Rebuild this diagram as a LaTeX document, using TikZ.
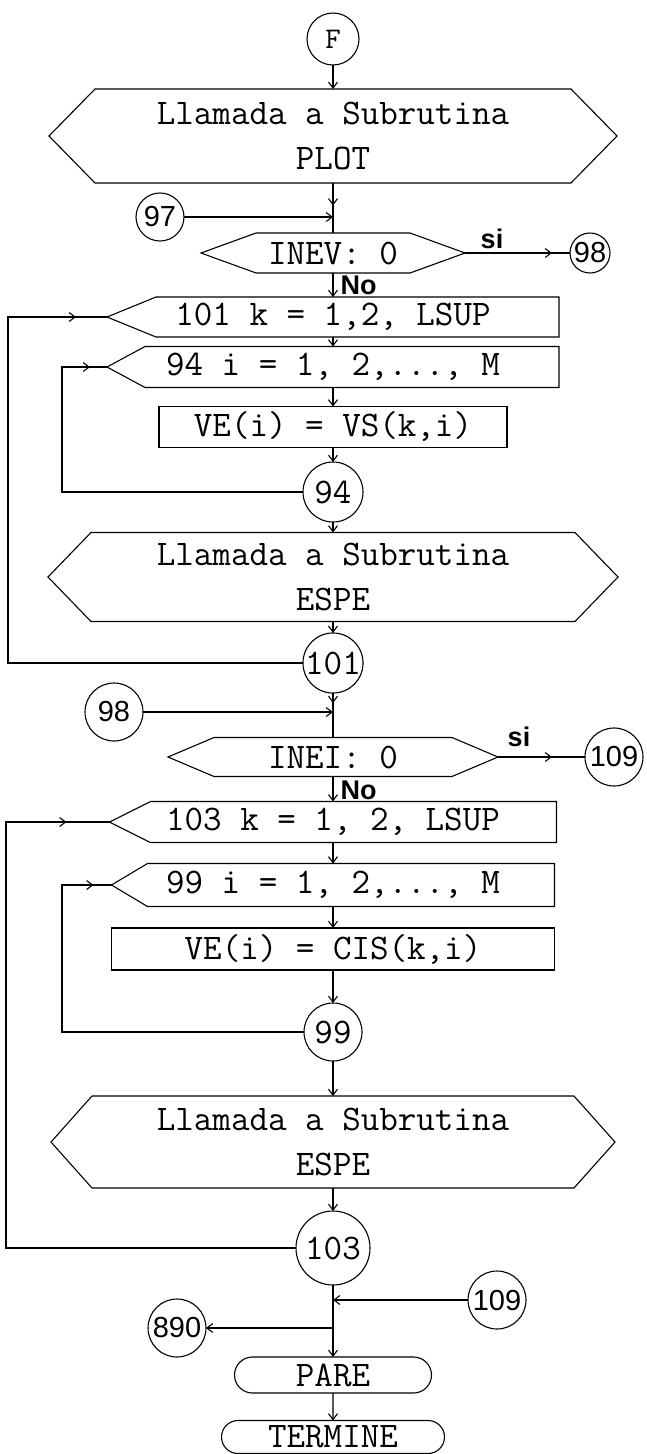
\documentclass[tikz,border=0pt]{standalone}
\usepackage{fontspec}
\setsansfont{Liberation Sans}
\usetikzlibrary{arrows.meta,calc,decorations.markings,shapes.misc}

\begin{document}
\begin{tikzpicture}[x=1pt, y=-1pt, line width=1.1pt,
    txt/.style={font=\fontsize{36}{45}\selectfont\ttfamily, inner sep=0pt, outer sep=0pt},
    hexbox/.style={txt, rectangle, align=center},
    loopbox/.style={txt, rectangle},
    procbox/.style={txt, draw, rectangle},
    conn/.style={txt, draw, circle},
    connsf/.style={draw, circle, inner sep=0pt, outer sep=0pt, font=\fontsize{29}{29}\selectfont\sffamily},
    endbox/.style={txt, draw, rounded rectangle},
    yesno/.style={font=\fontsize{27}{27}\selectfont\sffamily\bfseries, inner sep=0pt},
    arr/.style={-{Straight Barb[length=6pt,width=9pt]}},
    midarr/.style={postaction={decorate}, decoration={markings, mark=at position #1 with {\arrow{Straight Barb[length=6pt,width=9pt]}}}}
]
    \useasboundingbox (0,0) rectangle (646,1454);
    \def\ax{333}

    % First part: PLOT and INEV
    \node[conn, minimum size=52pt, font=\fontsize{30}{30}\selectfont\ttfamily] (F) at (\ax,39) {F};
    \node[hexbox, minimum width=568pt, minimum height=94pt] (plot) at (\ax,136) {Llamada a Subrutina\\PLOT};
    \node[connsf, minimum size=48pt] (c97) at (160,217) {97};
    \coordinate (j97) at (\ax,217);
    \node[hexbox, minimum width=264pt, minimum height=40pt] (inev) at (\ax,253) {INEV: 0};
    \node[yesno] (si1) at (492,239) {si};
    \node[connsf, minimum size=40pt] (c98) at (590,253) {98};
    \node[yesno, anchor=west] (no1) at (340,285) {No};

    % Loop 101 / 94
    \node[loopbox, minimum width=452pt, minimum height=40pt] (b101) at (\ax,317) {101 k = 1,2, LSUP};
    \node[loopbox, minimum width=452pt, minimum height=41pt] (b94) at (\ax,367) {94 i = 1, 2,..., M};
    \node[procbox, minimum width=348pt, minimum height=41pt] (vs) at (\ax,427) {VE(i) = VS(k,i)};
    \node[conn, minimum size=60pt] (c94) at (\ax,492) {94};
    \node[hexbox, minimum width=570pt, minimum height=89pt] (espeA) at (\ax,577) {Llamada a Subrutina\\ESPE};
    \node[conn, minimum size=60pt] (c101) at (\ax,663) {101};
    \coordinate (l101) at (8,500);
    \coordinate (l94) at (62,430);

    % Second part: INEI
    \node[connsf, minimum size=58pt] (c98b) at (114,712) {98};
    \coordinate (j98) at (\ax,712);
    \node[hexbox, minimum width=330pt, minimum height=39pt] (inei) at (\ax,757) {INEI: 0};
    \node[yesno] (si2) at (519,737) {si};
    \node[connsf, minimum size=58pt] (c109) at (614,757) {109};
    \node[yesno, anchor=west] (no2) at (340,790) {No};

    % Loop 103 / 99
    \node[loopbox, minimum width=447pt, minimum height=41pt] (b103) at (\ax,822) {103 k = 1, 2, LSUP};
    \node[loopbox, minimum width=443pt, minimum height=43pt] (b99) at (\ax,885) {99 i = 1, 2,..., M};
    \node[procbox, minimum width=443pt, minimum height=42pt] (cis) at (\ax,949) {VE(i) = CIS(k,i)};
    \node[conn, minimum size=58pt] (c99) at (\ax,1032) {99};
    \node[hexbox, minimum width=564pt, minimum height=92pt] (espeB) at (\ax,1142) {Llamada a Subrutina\\ESPE};
    \node[conn, minimum size=74pt] (c103) at (\ax,1248) {103};
    \coordinate (l103) at (6,1000);
    \coordinate (l99) at (62,960);

    % End
    \node[connsf, minimum size=58pt] (c109b) at (497,1300) {109};
    \coordinate (j109) at (\ax,1300);
    \node[connsf, minimum size=58pt] (c890) at (177,1328) {890};
    \coordinate (j890) at (\ax,1328);
    \node[endbox, minimum width=197pt, minimum height=36pt] (pare) at (\ax,1375) {PARE};
    \node[endbox, minimum width=223pt, minimum height=33pt] (term) at (\ax,1437) {TERMINE};

    % Outlines
    \foreach \n/\c in {plot/46, inev/55, espeA/43, inei/46, espeB/41} {
        \draw (\n.west) -- ($(\n.north west)+(\c,0)$) -- ($(\n.north east)+(-\c,0)$) -- (\n.east)
            -- ($(\n.south east)+(-\c,0)$) -- ($(\n.south west)+(\c,0)$) -- cycle;
    }
    \foreach \n/\c in {b101/49, b94/38, b103/41, b99/36} {
        \draw (\n.west) -- ($(\n.north west)+(\c,0)$) -- (\n.north east) -- (\n.south east)
            -- ($(\n.south west)+(\c,0)$) -- cycle;
    }

    % Edges
    \draw[arr] (F) -- (plot);
    \draw[midarr=0.45] (plot) -- (inev);
    \draw[arr] (c97) -- (j97);
    \draw[midarr=-18pt] (inev.east) -- (c98);
    \draw[arr] (inev) -- (b101);
    \draw[arr] (b101) -- (b94);
    \draw[arr] (b94) -- (vs);
    \draw[arr] (vs) -- (c94);
    \draw[arr] (c94) -- (espeA);
    \draw[arr] (espeA) -- (c101);
    \draw[midarr=-17pt] (c94) -| (l94) |- (b94);
    \draw[midarr=-31pt] (c101) -| (l101) |- (b101);

    \draw[midarr=10pt] (c101) -- (inei);
    \draw[arr] (c98b) -- (j98);
    \draw[midarr=-33pt] (inei.east) -- (c109);
    \draw[arr] (inei) -- (b103);
    \draw[arr] (b103) -- (b99);
    \draw[arr] (b99) -- (cis);
    \draw[arr] (cis) -- (c99);
    \draw[arr] (c99) -- (espeB);
    \draw[arr] (espeB) -- (c103);
    \draw[midarr=-18pt] (c99) -| (l99) |- (b99);
    \draw[midarr=-43pt] (c103) -| (l103) |- (b103);

    \draw[arr] (c103) -- (pare);
    \draw[arr] (c109b) -- (j109);
    \draw[arr] (j890) -- (c890);
    \draw[arr] (pare) -- (term);
\end{tikzpicture}
\end{document}
